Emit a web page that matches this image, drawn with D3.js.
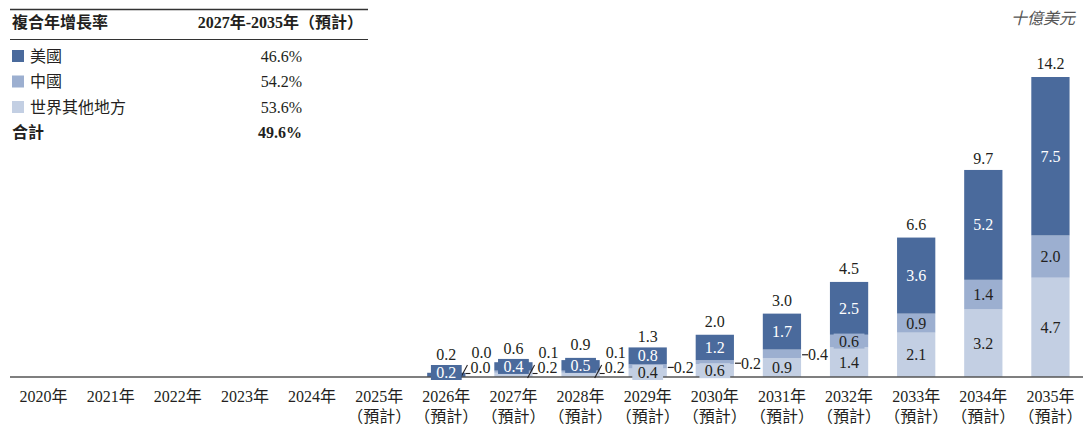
<!DOCTYPE html>
<html>
<head>
<meta charset="utf-8">
<script src="https://cdn.jsdelivr.net/npm/d3@7"></script>
<style>
  body { margin: 0; background: #fff; }
  text { font-family: "Liberation Serif", "Noto Sans CJK TC", serif; fill: #231f20; }
</style>
</head>
<body>
<div id="main"></div>
<script>
  // values in billions of USD
  var years = ["2020年","2021年","2022年","2023年","2024年","2025年","2026年","2027年","2028年","2029年","2030年","2031年","2032年","2033年","2034年","2035年"];
  var forecast = [false,false,false,false,false,true,true,true,true,true,true,true,true,true,true,true];
  var usa   = [null,null,null,null,null,null,0.2,0.4,0.5,0.8,1.2,1.7,2.5,3.6,5.2,7.5];
  var china = [null,null,null,null,null,null,0.0,0.1,0.1,0.2,0.2,0.4,0.6,0.9,1.4,2.0];
  var rest  = [null,null,null,null,null,null,0.0,0.2,0.2,0.4,0.6,0.9,1.4,2.1,3.2,4.7];
  var total = [null,null,null,null,null,null,0.2,0.6,0.9,1.3,2.0,3.0,4.5,6.6,9.7,14.2];

  var legendNames = ["美國","中國","世界其他地方"];
  var legendCagr = ["46.6%","54.2%","53.6%"];
  var totalCagr = "49.6%";
  var colors = ["#4a6a9c","#9cafd0","#c3cfe3"];

  var W = 1083, H = 428, base = 377;

  var svg = d3.select("#main").append("svg")
      .attr("width", W)
      .attr("height", H);

  var x = d3.scaleBand()
      .domain(years)
      .range([10, 1084])
      .paddingInner(0.43)
      .paddingOuter(0.215);

  var y = d3.scaleLinear()
      .domain([0, 14.2])
      .range([base, 77]);

  // stacked rows: rest at bottom, then china, then usa
  var rows = [];
  years.forEach(function(yr, i) {
    if (total[i] == null) return;
    rows.push({ year: yr, rest: rest[i], china: china[i], usa: usa[i], total: total[i] });
  });
  var stack = d3.stack().keys(["rest","china","usa"]);
  var series = stack(rows);
  var segColor = { rest: colors[2], china: colors[1], usa: colors[0] };

  var g = svg.append("g");
  series.forEach(function(s) {
    g.selectAll(null)
      .data(s)
      .enter().append("rect")
      .attr("x", function(d) { return x(d.data.year); })
      .attr("width", x.bandwidth())
      .attr("y", function(d) { return y(d[1]); })
      .attr("height", function(d) { return y(d[0]) - y(d[1]); })
      .attr("fill", segColor[s.key]);
  });

  // axis line
  svg.append("line")
    .attr("x1", 10).attr("x2", W)
    .attr("y1", base).attr("y2", base)
    .attr("stroke", "#555").attr("stroke-width", 1.5);

  // segment labels
  var fs = 16;
  var boxTop = {};
  function boxedLabel(key, cx, cy, txt, bg, fg) {
    var w = txt.length * 7.6 + 8;
    var by = Math.min(cy - 7.5, base - 12);
    boxTop[key] = Math.min(boxTop[key] || 999, by);
    svg.append("rect").attr("x", cx - w / 2).attr("y", by).attr("width", w).attr("height", 15).attr("fill", bg);
    svg.append("text").attr("x", cx).attr("y", by + 7.5).attr("dy", "0.35em")
      .attr("text-anchor", "middle").style("font-size", fs + "px").style("fill", fg).text(txt);
  }
  function plainLabel(cx, cy, txt, fg, anchor) {
    svg.append("text").attr("x", cx).attr("y", cy).attr("dy", "0.35em")
      .attr("text-anchor", anchor || "middle").style("font-size", fs + "px").style("fill", fg).text(txt);
  }

  series.forEach(function(s) {
    s.forEach(function(d) {
      var v = d.data[s.key];
      var top = y(d[1]), bot = y(d[0]), h = bot - top;
      var cx = x(d.data.year) + x.bandwidth() / 2;
      var right = x(d.data.year) + x.bandwidth();
      var cy = (top + bot) / 2;
      var fg = s.key === "usa" ? "#fff" : "#231f20";
      var txt = v.toFixed(1);
      var restSmall = y(0) - y(d.data.rest) < 6;
      if (s.key === "china" && h < 12) {
        if (restSmall) {
          svg.append("text").attr("x", right + 16).attr("y", base - 19).attr("text-anchor", "middle")
            .style("font-size", fs + "px").text(txt);
        } else {
          svg.append("line").attr("x1", right + 1).attr("x2", right + 7)
            .attr("y1", cy + 1).attr("y2", cy + 1).attr("stroke", "#231f20").attr("stroke-width", 1.2);
          plainLabel(right + 7, cy + 1, txt, "#231f20", "start");
        }
      } else if (s.key === "rest" && h < 6) {
        svg.append("line").attr("x1", right - 5).attr("x2", right + 2)
          .attr("y1", base + 1).attr("y2", base - 12).attr("stroke", "#231f20").attr("stroke-width", 1.1);
        svg.append("line").attr("x1", right).attr("x2", right + 5)
          .attr("y1", base - 3.5).attr("y2", base - 3.5).attr("stroke", "#231f20").attr("stroke-width", 1.1);
        svg.append("text").attr("x", right + 5).attr("y", base - 4)
          .style("font-size", fs + "px").text(txt);
      } else if (h < 15) {
        boxedLabel(d.data.year, cx, cy, txt, segColor[s.key], fg);
      } else {
        plainLabel(cx, cy, txt, fg);
      }
    });
  });

  // totals above bars
  svg.selectAll(null)
    .data(rows)
    .enter().append("text")
    .attr("x", function(d) { return x(d.year) + x.bandwidth() / 2; })
    .attr("y", function(d) {
      var t = y(d.total) - 8;
      if (boxTop[d.year] != null) t = Math.min(t, boxTop[d.year] - 5);
      return t;
    })
    .attr("text-anchor", "middle")
    .style("font-size", fs + "px")
    .text(function(d) { return d.total.toFixed(1); });

  // category labels
  years.forEach(function(yr, i) {
    var cx = x(yr) + x.bandwidth() / 2;
    svg.append("text").attr("x", cx).attr("y", 402).attr("text-anchor", "middle")
      .style("font-size", "16px").text(yr);
    if (forecast[i]) {
      svg.append("text").attr("x", cx).attr("y", 422).attr("text-anchor", "middle")
        .style("font-size", "16px").text("（預計）");
    }
  });

  // unit
  svg.append("text").attr("x", 1075).attr("y", 24).attr("text-anchor", "end")
    .style("font-size", "16px").style("font-style", "italic").style("fill", "#555")
    .text("十億美元");

  // CAGR table
  svg.append("line").attr("x1", 10).attr("x2", 368).attr("y1", 9.5).attr("y2", 9.5)
    .attr("stroke", "#333").attr("stroke-width", 1.5);
  svg.append("line").attr("x1", 10).attr("x2", 368).attr("y1", 39.5).attr("y2", 39.5)
    .attr("stroke", "#333").attr("stroke-width", 1);
  svg.append("text").attr("x", 12).attr("y", 28).style("font-size", "16px").style("font-weight", "bold")
    .text("複合年增長率");
  svg.append("text").attr("x", 363).attr("y", 28).attr("text-anchor", "end")
    .style("font-size", "16px").style("font-weight", "bold").text("2027年-2035年（預計）");

  legendNames.forEach(function(n, i) {
    var ry = 56 + i * 25.5;
    svg.append("rect").attr("x", 12).attr("y", ry - 6).attr("width", 12).attr("height", 12).attr("fill", colors[i]);
    svg.append("text").attr("x", 30).attr("y", ry).attr("dy", "0.35em").style("font-size", "16px").text(n);
    svg.append("text").attr("x", 302).attr("y", ry).attr("dy", "0.35em").attr("text-anchor", "end")
      .style("font-size", "16px").text(legendCagr[i]);
  });
  svg.append("text").attr("x", 12).attr("y", 132).attr("dy", "0.35em").style("font-size", "16px")
    .style("font-weight", "bold").text("合計");
  svg.append("text").attr("x", 302).attr("y", 132).attr("dy", "0.35em").attr("text-anchor", "end")
    .style("font-size", "16px").style("font-weight", "bold").text(totalCagr);
</script>
</body>
</html>
